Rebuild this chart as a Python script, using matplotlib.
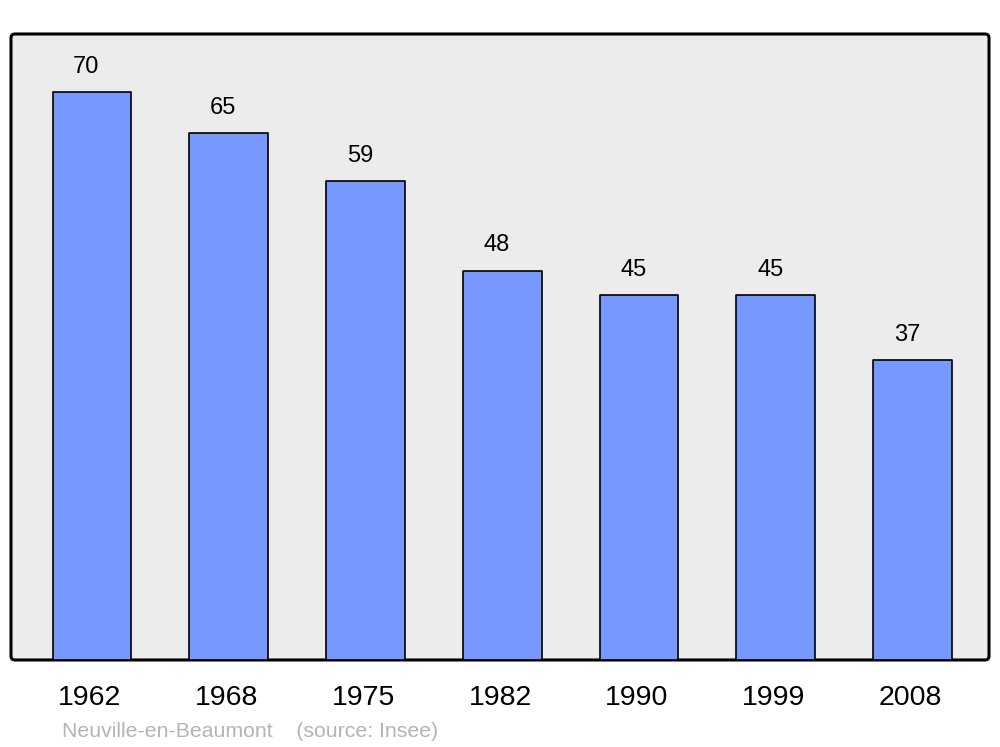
import matplotlib.pyplot as plt
from matplotlib.patches import FancyBboxPatch

plt.rcParams['font.family'] = ['Liberation Sans', 'DejaVu Sans']

years = ['1962', '1968', '1975', '1982', '1990', '1999', '2008']
population = [70, 65, 59, 48, 45, 45, 37]

fig = plt.figure(figsize=(10, 7.47), dpi=100)
ax = fig.add_axes([0.011, 0.1165, 0.978, 0.838])
ax.set_facecolor('none')

# fond gris arrondi avec bordure noire
ax_w, ax_h = 978, 626
frame = FancyBboxPatch((0, 0), 1, 1, boxstyle='round,pad=0,rounding_size=%f' % (4 / ax_w),
                       mutation_aspect=ax_w / ax_h, transform=ax.transAxes,
                       facecolor='#ececec', edgecolor='black', linewidth=2.2,
                       clip_on=False, zorder=0)
ax.add_patch(frame)

x = list(range(len(years)))
bars = ax.bar(x, population, width=0.575, color='#7799ff', edgecolor='black',
              linewidth=1.2, zorder=2)
for b in bars:
    b.set_joinstyle('round')

for i, v in zip(x, population):
    ax.annotate(str(v), xy=(i, v), xytext=(-4, 13.7), textcoords='offset points',
                ha='center', va='baseline', fontsize=17)
    ax.annotate(years[i], xy=(i, 0), xycoords=('data', 'axes fraction'),
                xytext=(-1.5, -32.4), textcoords='offset points',
                ha='center', va='baseline', fontsize=20.5)

ax.set_xlim(-0.592, 6.559)
ax.set_ylim(0, 77.15)
ax.set_xticks([])
ax.set_yticks([])
for s in ax.spines.values():
    s.set_visible(False)

fig.text(0.062, 10 / 747, 'Neuville-en-Beaumont    (source: Insee)',
         color='#b4b4b4', fontsize=15.3, ha='left', va='baseline')

fig.savefig('out.png', dpi=100)
